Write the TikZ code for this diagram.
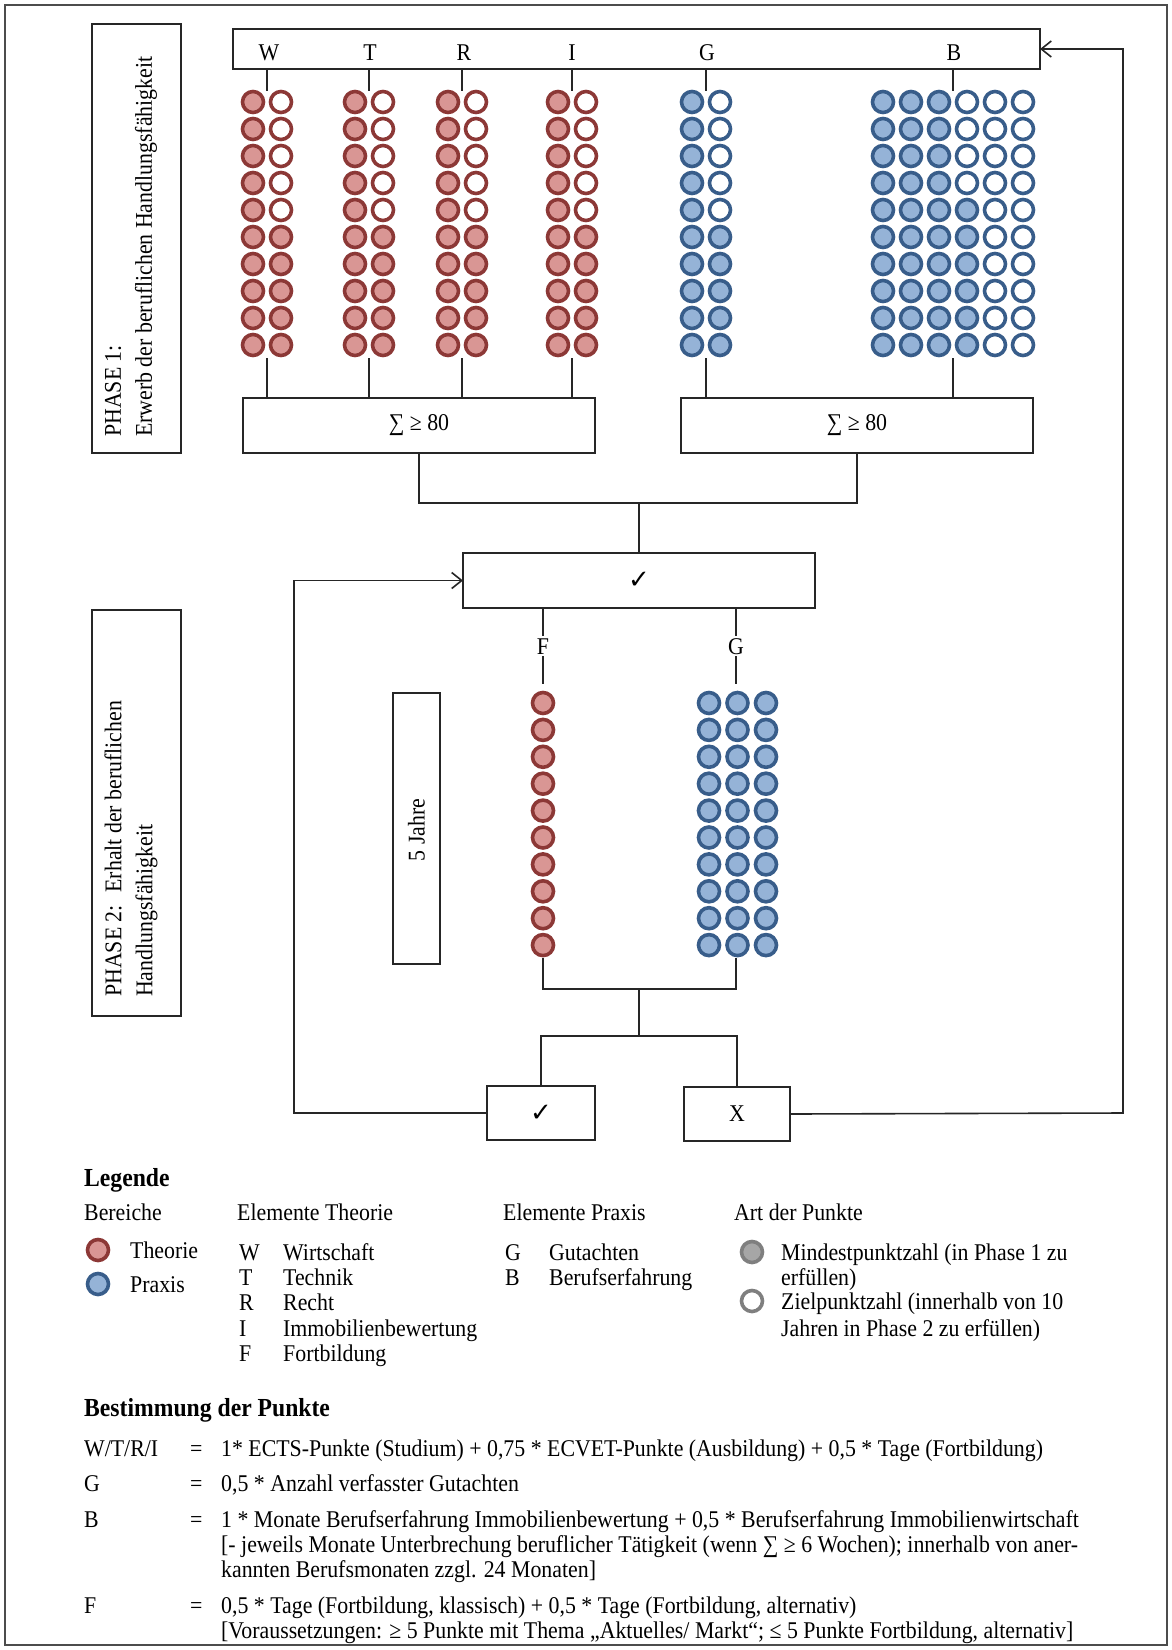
\documentclass[tikz,border=0pt]{standalone}
\usepackage{fontspec}
\setmainfont{Liberation Serif}[FakeStretch=0.91]
\newfontfamily\djv{DejaVu Sans}
\usetikzlibrary{arrows.meta}
\definecolor{redS}{HTML}{8C3836}
\definecolor{redF}{HTML}{D99694}
\definecolor{bluS}{HTML}{385D8A}
\definecolor{bluF}{HTML}{95B3D7}
\definecolor{grS}{HTML}{7F7F7F}
\definecolor{grF}{HTML}{A6A6A6}
\newcommand\fsz[2]{\fontsize{#1}{#2}\selectfont}
\begin{document}
\begin{tikzpicture}[x=1pt,y=-1pt,
  every node/.style={font=\fsz{24}{28}},
  ln/.style={line width=1.6pt, draw=black!85},
  bx/.style={draw=black!85, line width=1.6pt, inner sep=0pt, outer sep=0pt},
  lbl/.style={inner sep=2pt, text height=16pt, text depth=0pt},
  txt/.style={anchor=west, inner sep=0pt, text height=16pt, text depth=0pt},
  btxt/.style={txt, font=\fsz{26}{30}\bfseries},
  rp/.style={line width=3.6pt, draw=redS, fill=redF},
  ro/.style={line width=3.6pt, draw=redS, fill=white},
  bp/.style={line width=3.6pt, draw=bluS, fill=bluF},
  bo/.style={line width=3.6pt, draw=bluS, fill=white},
  gp/.style={line width=3.6pt, draw=grS, fill=grF},
  go/.style={line width=3.6pt, draw=grS, fill=white},
  arr/.style={ln, -{Straight Barb[length=10pt,width=16pt]}}
]
\useasboundingbox (0,0) rectangle (1172,1650);
\fill[white] (0,0) rectangle (1172,1650);
\draw[line width=1.2pt, black!70] (5,5) rectangle (1167,1645);

% phase boxes
\node[bx, minimum width=89pt, minimum height=429pt] (ph1) at (136.5,238.5) {};
\node[rotate=90, anchor=west, align=left, inner sep=0pt, font=\fsz{24}{31}] (ph1t) at (131,437) {PHASE 1:\\Erwerb der beruflichen Handlungsfähigkeit};
\node[bx, minimum width=89pt, minimum height=406pt] (ph2) at (136.5,813) {};
\node[rotate=90, anchor=west, align=left, inner sep=0pt, font=\fsz{24}{31}] (ph2t) at (131,997) {PHASE 2:~ Erhalt der beruflichen\\Handlungsfähigkeit};

% top box and labels
\node[bx, minimum width=807pt, minimum height=40pt] (topbox) at (636.5,49) {};
\node[lbl] (lW) at (269,52) {W};
\node[lbl] (lT) at (370,52) {T};
\node[lbl] (lR) at (464,52) {R};
\node[lbl] (lI) at (572,52) {I};
\node[lbl] (lG) at (707,52) {G};
\node[lbl] (lB) at (954,52) {B};

% group coordinates
\coordinate (gW) at (267,91);  \coordinate (gWb) at (267,358);
\coordinate (gT) at (369,91);  \coordinate (gTb) at (369,358);
\coordinate (gR) at (462,91);  \coordinate (gRb) at (462,358);
\coordinate (gI) at (572,91);  \coordinate (gIb) at (572,358);
\coordinate (gG) at (706,91);  \coordinate (gGb) at (706,358);
\coordinate (gB) at (953,91);  \coordinate (gBb) at (953,358);

% theory circles
\foreach \cx in {253,355,448,558}{
  \foreach \i in {0,...,9}{
    \pgfmathsetmacro\cy{102+27*\i}
    \draw[rp] (\cx,\cy) circle[radius=10.5pt];
    \ifnum\i<5 \draw[ro] (\cx+28,\cy) circle[radius=10.5pt];
    \else \draw[rp] (\cx+28,\cy) circle[radius=10.5pt]; \fi
  }
}
% G circles
\foreach \i in {0,...,9}{
  \pgfmathsetmacro\cy{102+27*\i}
  \draw[bp] (692,\cy) circle[radius=10.5pt];
  \ifnum\i<5 \draw[bo] (720,\cy) circle[radius=10.5pt];
  \else \draw[bp] (720,\cy) circle[radius=10.5pt]; \fi
}
% B circles
\foreach \k in {0,...,5}{
  \foreach \i in {0,...,9}{
    \pgfmathsetmacro\cy{102+27*\i}
    \pgfmathtruncatemacro\fl{(\k<3)||((\k==3)&&(\i>3))}
    \ifnum\fl=1 \draw[bp] (883+28*\k,\cy) circle[radius=10.5pt];
    \else \draw[bo] (883+28*\k,\cy) circle[radius=10.5pt]; \fi
  }
}

% sum boxes
\node[bx, minimum width=352pt, minimum height=55pt] (sumL) at (419,425.5) {∑ ≥ 80};
\node[bx, minimum width=352pt, minimum height=55pt] (sumR) at (857,425.5) {∑ ≥ 80};

\foreach \g in {W,T,R,I,G,B}{
  \draw[ln] (topbox.south -| g\g) -- (g\g);
}
\foreach \g in {W,T,R,I}{
  \draw[ln] (g\g b) -- (sumL.north -| g\g b);
}
\foreach \g in {G,B}{
  \draw[ln] (g\g b) -- (sumR.north -| g\g b);
}

% check box
\node[bx, minimum width=352pt, minimum height=55pt] (chk1) at (639,580.5) {\djv\fsz{26}{30}✓};
\coordinate (j1) at (639,503);
\draw[ln] (sumL.south) |- (j1) -| (sumR.south);
\draw[ln] (j1) -- (chk1.north);

% phase 2 labels
\node[lbl] (lF) at (543,646) {F};
\node[lbl] (lG2) at (736,646) {G};
\draw[ln] (chk1.south -| lF) -- (lF.north);
\draw[ln] (chk1.south -| lG2) -- (lG2.north);
\coordinate (fTop) at (543,684); \coordinate (fBot) at (543,958);
\coordinate (hTop) at (736,684); \coordinate (hBot) at (736,958);
\draw[ln] (lF.south) -- (fTop);
\draw[ln] (lG2.south) -- (hTop);

\foreach \i in {0,...,9}{
  \pgfmathsetmacro\cy{703+26.9*\i}
  \draw[rp] (543,\cy) circle[radius=10.5pt];
  \draw[bp] (709,\cy) circle[radius=10.5pt];
  \draw[bp] (737.5,\cy) circle[radius=10.5pt];
  \draw[bp] (766,\cy) circle[radius=10.5pt];
}

% 5 Jahre
\node[bx, minimum width=47pt, minimum height=271pt] (jahre) at (416.5,828.5) {};
\node[rotate=90] (jahret) at (416.5,830) {5 Jahre};

% result boxes
\node[bx, minimum width=108pt, minimum height=54pt] (okB) at (541,1113) {\djv\fsz{26}{30}✓};
\node[bx, minimum width=106pt, minimum height=54pt] (noB) at (737,1114) {X};
\coordinate (j2) at (639,989);
\coordinate (j3) at (639,1036);
\draw[ln] (fBot) |- (j2) -| (hBot);
\draw[ln] (j2) -- (j3);
\draw[ln] (okB.north) |- (j3) -| (noB.north);

% feedback loops
\coordinate (fbL) at (294,1113);
\coordinate (fbR) at (1123,1113);
\draw[arr] (okB.west) -- (fbL) |- (chk1.west);
\draw[arr] (noB.east) -- (fbR) |- (topbox.east);

% legend
\node[btxt] (legT) at (84,1178) {Legende};
\node[txt] (hBer) at (84,1212) {Bereiche};
\node[txt] (hET) at (237,1212) {Elemente Theorie};
\node[txt] (hEP) at (503,1212) {Elemente Praxis};
\node[txt] (hAP) at (734,1212) {Art der Punkte};

\draw[rp] (98,1250) circle[radius=10.5pt];
\node[txt] (tTh) at (130,1250) {Theorie};
\draw[bp] (98,1284) circle[radius=10.5pt];
\node[txt] (tPr) at (130,1284) {Praxis};

\node[txt] at (239,1252) {W}; \node[txt] at (283,1252) {Wirtschaft};
\node[txt] at (239,1277) {T}; \node[txt] at (283,1277) {Technik};
\node[txt] at (239,1302) {R}; \node[txt] at (283,1302) {Recht};
\node[txt] at (239,1328) {I}; \node[txt] at (283,1328) {Immobilienbewertung};
\node[txt] at (239,1353) {F}; \node[txt] at (283,1353) {Fortbildung};

\node[txt] at (505,1252) {G}; \node[txt] at (549,1252) {Gutachten};
\node[txt] at (505,1277) {B}; \node[txt] at (549,1277) {Berufserfahrung};

\draw[gp] (752,1252) circle[radius=10.5pt];
\node[txt] at (781,1252) {Mindestpunktzahl (in Phase 1 zu};
\node[txt] at (781,1277) {erfüllen)};
\draw[go] (752,1301) circle[radius=10.5pt];
\node[txt] at (781,1301) {Zielpunktzahl (innerhalb von 10};
\node[txt] at (781,1328) {Jahren in Phase 2 zu erfüllen)};

% Bestimmung der Punkte
\node[btxt] at (84,1408) {Bestimmung der Punkte};
\node[txt] at (84,1448) {W/T/R/I}; \node[txt] at (190,1448) {=};
\node[txt] at (221,1448) {1* ECTS-Punkte (Studium) + 0,75 * ECVET-Punkte (Ausbildung) + 0,5 * Tage (Fortbildung)};
\node[txt] at (84,1483) {G}; \node[txt] at (190,1483) {=};
\node[txt] at (221,1483) {0,5 * Anzahl verfasster Gutachten};
\node[txt] at (84,1519) {B}; \node[txt] at (190,1519) {=};
\node[txt] at (221,1519) {1 * Monate Berufserfahrung Immobilienbewertung + 0,5 * Berufserfahrung Immobilienwirtschaft};
\node[txt] at (221,1544) {[- jeweils Monate Unterbrechung beruflicher Tätigkeit (wenn ∑ ≥ 6 Wochen); innerhalb von aner-};
\node[txt] at (221,1569) {kannten Berufsmonaten zzgl. 24 Monaten]};
\node[txt] at (84,1605) {F}; \node[txt] at (190,1605) {=};
\node[txt] at (221,1605) {0,5 * Tage (Fortbildung, klassisch) + 0,5 * Tage (Fortbildung, alternativ)};
\node[txt] at (221,1630) {[Voraussetzungen: ≥ 5 Punkte mit Thema „Aktuelles/ Markt“; ≤ 5 Punkte Fortbildung, alternativ]};
\end{tikzpicture}
\end{document}
